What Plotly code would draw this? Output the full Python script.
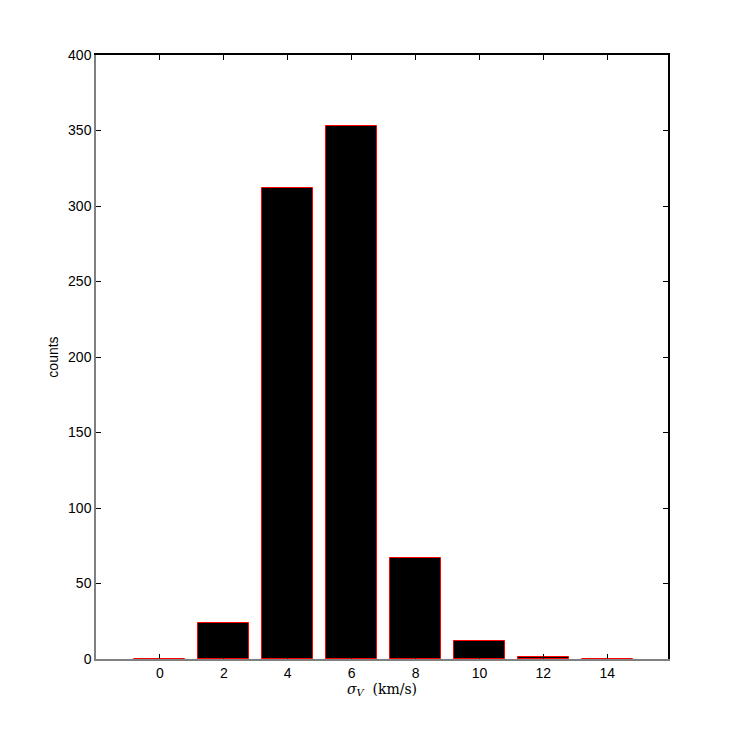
import plotly.graph_objects as go

# histogram of velocity dispersion
bin_centers = [0, 2, 4, 6, 8, 10, 12, 14]
counts = [0, 24, 312, 353, 67, 12, 1, 0]
x_ticks = [0, 2, 4, 6, 8, 10, 12, 14]
y_ticks = [0, 50, 100, 150, 200, 250, 300, 350, 400]

x_range = [-2, 15.9]
y_range = [0, 400]

fig = go.Figure()

fig.add_trace(go.Bar(
    x=bin_centers,
    y=counts,
    width=1.6,
    marker=dict(color='black', line=dict(color='red', width=1)),
    showlegend=False,
))

# dummy trace so the top/right axes exist
fig.add_trace(go.Scatter(x=[None], y=[None], xaxis='x2', yaxis='y2', showlegend=False))

tick_font = dict(family='Liberation Sans, Arial, sans-serif', size=14, color='black')

# page has an 8px body margin, so figure is 8px smaller than the window
fig.update_layout(
    width=731,
    height=734,
    margin=dict(l=88, r=71, t=47, b=83),
    paper_bgcolor='white',
    plot_bgcolor='white',
    bargap=0,
    xaxis=dict(
        range=x_range, tickvals=x_ticks, ticks='inside', ticklen=5,
        tickcolor='black', showline=True, linecolor='#808080', linewidth=1.5,
        showgrid=False, zeroline=False, tickfont=tick_font,
        title=dict(text='<i>σ</i><sub><i>V</i></sub>  (km/s)',
                   font=dict(family='DejaVu Serif, Liberation Serif, serif', size=14, color='black'),
                   standoff=4),
    ),
    yaxis=dict(
        range=y_range, tickvals=y_ticks, ticks='inside', ticklen=5,
        tickcolor='black', showline=True, linecolor='#808080', linewidth=1.5,
        showgrid=False, zeroline=False, tickfont=tick_font,
        title=dict(text='counts', font=tick_font, standoff=6),
    ),
    xaxis2=dict(
        range=x_range, tickvals=x_ticks, ticks='inside', ticklen=5,
        tickcolor='black', showline=True, linecolor='black', linewidth=1.5,
        showgrid=False, zeroline=False, showticklabels=False,
        overlaying='x', side='top', anchor='y2',
    ),
    yaxis2=dict(
        range=y_range, tickvals=y_ticks, ticks='inside', ticklen=5,
        tickcolor='black', showline=True, linecolor='black', linewidth=1.5,
        showgrid=False, zeroline=False, showticklabels=False,
        overlaying='y', side='right', anchor='x2',
    ),
)

fig.write_html("out.html")
